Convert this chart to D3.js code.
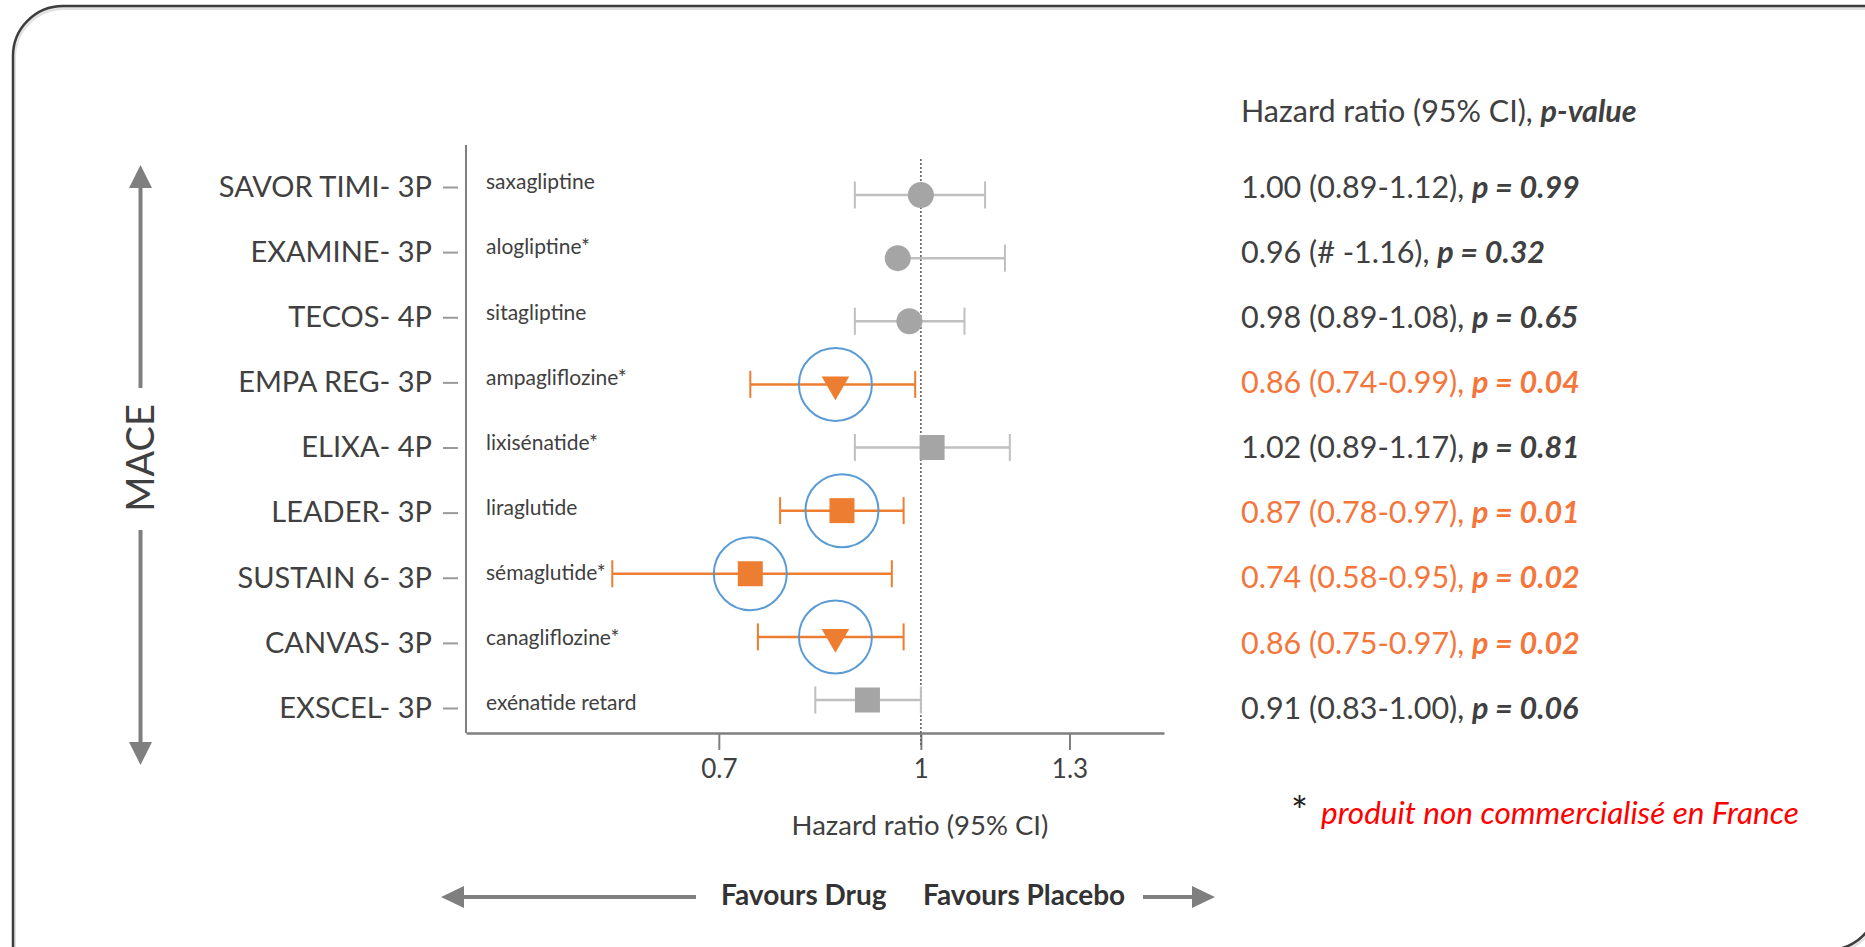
<!DOCTYPE html>
<html>
<head>
<meta charset="utf-8">
<script src="https://cdn.jsdelivr.net/npm/d3@7"></script>
<style>
  html, body { margin: 0; padding: 0; background: #ffffff; }
  svg { display: block; font-family: Lato, "Open Sans", sans-serif; }
</style>
</head>
<body>
<svg id="chart" width="1865" height="947"></svg>
<script>
// Cardiovascular outcome trials: 3-/4-point MACE hazard ratios
const trials = ["SAVOR TIMI- 3P", "EXAMINE- 3P", "TECOS- 4P", "EMPA REG- 3P", "ELIXA- 4P",
                "LEADER- 3P", "SUSTAIN 6- 3P", "CANVAS- 3P", "EXSCEL- 3P"];
const drugs = ["saxagliptine", "alogliptine*", "sitagliptine", "ampagliflozine*", "lixisénatide*",
               "liraglutide", "sémaglutide*", "canagliflozine*", "exénatide retard"];
const drugClass = ["DPP-4", "DPP-4", "DPP-4", "SGLT2", "GLP-1", "GLP-1", "GLP-1", "SGLT2", "GLP-1"];
const hazardRatio = [1.00, 0.96, 0.98, 0.86, 1.02, 0.87, 0.74, 0.86, 0.91];
const ciLower = [0.89, null, 0.89, 0.74, 0.89, 0.78, 0.58, 0.75, 0.83];
const ciUpper = [1.12, 1.16, 1.08, 0.99, 1.17, 0.97, 0.95, 0.97, 1.00];
const pValues = [0.99, 0.32, 0.65, 0.04, 0.81, 0.01, 0.02, 0.02, 0.06];
const xTicks = [0.7, 1, 1.3];

const rows = trials.map((t, i) => ({
  trial: t, drug: drugs[i], cls: drugClass[i], hr: hazardRatio[i],
  lo: ciLower[i], hi: ciUpper[i], p: pValues[i], sig: pValues[i] < 0.05
}));

const C = {
  text: "#404040", axis: "#7f7f7f", grayMark: "#a5a5a5", grayBar: "#bfbfbf",
  orange: "#ed7d31", orangeText: "#f4763b", blue: "#5b9bd5", red: "#ff0000"
};

const svg = d3.select("#chart");

// Card outline: rounded top-left and bottom-right corners
(function () {
  const l = 13, t = 6, r = 1878, b = 950, rad = 50;
  const p = d3.path();
  p.moveTo(l, b);
  p.lineTo(l, t + rad);
  p.arcTo(l, t, l + rad, t, rad);
  p.lineTo(r, t);
  p.lineTo(r, b - rad);
  p.arcTo(r, b, r - rad, b, rad);
  p.lineTo(l, b);
  svg.append("path").attr("d", p.toString()).attr("transform", "translate(1,2)")
    .attr("fill", "none").attr("stroke", "#e2e2e2").attr("stroke-width", 4);
  svg.append("path").attr("d", p.toString())
    .attr("fill", "none").attr("stroke", "#3d3d3d").attr("stroke-width", 2.5);
})();

// Scales
const x = d3.scaleLog().domain([0.448, 1.536]).range([466, 1164]);
const yRow = d3.scalePoint().domain(trials).range([187, 708]);
const yMark = d3.scalePoint().domain(trials).range([195, 700]);
const plotTop = 145, plotBottom = 733;

// Plot frame (left and bottom axis lines)
svg.append("line").attr("x1", x.range()[0]).attr("x2", x.range()[0])
  .attr("y1", plotTop).attr("y2", plotBottom)
  .attr("stroke", C.axis).attr("stroke-width", 2);

const xAxis = svg.append("g").attr("transform", `translate(0,${plotBottom})`)
  .call(d3.axisBottom(x).tickValues(xTicks).tickFormat(d => String(d))
    .tickSize(17).tickSizeOuter(0).tickPadding(10));
xAxis.select(".domain").attr("stroke", C.axis).attr("stroke-width", 2.5);
xAxis.selectAll(".tick line").attr("stroke", C.axis).attr("stroke-width", 2);
xAxis.selectAll(".tick text").attr("fill", C.text).attr("font-size", 26)
  .attr("font-family", "Lato, sans-serif");

// Trial labels with short dashes
const yAxis = svg.append("g").attr("transform", "translate(458,0)")
  .call(d3.axisLeft(yRow).tickSize(15).tickPadding(11));
yAxis.select(".domain").remove();
yAxis.selectAll(".tick line").attr("stroke", "#9a9a9a").attr("stroke-width", 2);
yAxis.selectAll(".tick text").attr("fill", C.text).attr("font-size", 29)
  .attr("font-family", "Lato, sans-serif");

// Line of no effect
svg.append("line").attr("x1", x(1)).attr("x2", x(1)).attr("y1", 159).attr("y2", 745)
  .attr("stroke", "#595959").attr("stroke-width", 1.5).attr("stroke-dasharray", "2,2");

// Drug names inside the plot
svg.append("g").selectAll("text").data(rows).join("text")
  .attr("x", 486).attr("y", d => yRow(d.trial) - 5).attr("dy", "0.35em")
  .attr("fill", C.text).attr("font-size", 21).text(d => d.drug);

// Confidence intervals
const capHalf = 13.5;
const ci = svg.append("g").selectAll("g").data(rows).join("g");
ci.append("line")
  .attr("x1", d => x(d.lo == null ? d.hr : d.lo)).attr("x2", d => x(d.hi))
  .attr("y1", d => yMark(d.trial)).attr("y2", d => yMark(d.trial))
  .attr("stroke", d => d.sig ? C.orange : C.grayBar).attr("stroke-width", 2.5);
ci.filter(d => d.lo != null).append("line")
  .attr("x1", d => x(d.lo)).attr("x2", d => x(d.lo))
  .attr("y1", d => yMark(d.trial) - capHalf).attr("y2", d => yMark(d.trial) + capHalf)
  .attr("stroke", d => d.sig ? C.orange : C.grayBar).attr("stroke-width", 2);
ci.append("line")
  .attr("x1", d => x(d.hi)).attr("x2", d => x(d.hi))
  .attr("y1", d => yMark(d.trial) - capHalf).attr("y2", d => yMark(d.trial) + capHalf)
  .attr("stroke", d => d.sig ? C.orange : C.grayBar).attr("stroke-width", 2);

// Point estimates, symbol by drug class
const symbolFor = { "DPP-4": d3.symbolCircle, "GLP-1": d3.symbolSquare, "SGLT2": d3.symbolTriangle };
const sizeFor = { "DPP-4": Math.PI * 13 * 13, "GLP-1": 625, "SGLT2": 330 };
svg.append("g").selectAll("path").data(rows).join("path")
  .attr("d", d => d3.symbol(symbolFor[d.cls], sizeFor[d.cls])())
  .attr("transform", d => `translate(${x(d.hr)},${yMark(d.trial)})` + (d.cls === "SGLT2" ? " rotate(180)" : ""))
  .attr("fill", d => d.sig ? C.orange : C.grayMark);

// Highlight rings on significant results
svg.append("g").selectAll("circle").data(rows.filter(d => d.sig)).join("circle")
  .attr("cx", d => x(d.hr)).attr("cy", d => yMark(d.trial)).attr("r", 36.5)
  .attr("fill", "none").attr("stroke", C.blue).attr("stroke-width", 2);

// Axis title
svg.append("text").attr("x", 920).attr("y", 825).attr("dy", "0.35em")
  .attr("text-anchor", "middle").attr("fill", C.text).attr("font-size", 27.5)
  .text("Hazard ratio (95% CI)");

// Right-hand column: HR (95% CI), p-value
const header = svg.append("text").attr("x", 1241).attr("y", 111).attr("dy", "0.35em")
  .attr("fill", C.text).attr("font-size", 30.5);
header.append("tspan").text("Hazard ratio (95% CI), ");
header.append("tspan").attr("font-style", "italic").attr("font-weight", "bold").text("p-value");

const stats = svg.append("g").selectAll("text").data(rows).join("text")
  .attr("x", 1241).attr("y", d => yRow(d.trial)).attr("dy", "0.35em")
  .attr("font-size", 30.5).attr("fill", d => d.sig ? C.orangeText : C.text);
stats.append("tspan")
  .text(d => `${d.hr.toFixed(2)} (${d.lo == null ? "# " : d.lo.toFixed(2)}-${d.hi.toFixed(2)}), `);
stats.append("tspan").attr("font-style", "italic").attr("font-weight", "bold")
  .text(d => `p = ${d.p.toFixed(2)}`);

// Footnote
svg.append("text").attr("x", 1291).attr("y", 826).attr("fill", "#222")
  .attr("font-size", 40).text("*");
svg.append("text").attr("x", 1321).attr("y", 813).attr("dy", "0.35em")
  .attr("fill", C.red).attr("font-size", 31.5).attr("font-style", "italic")
  .text("produit non commercialisé en France");

// MACE vertical double arrow
const arrow = svg.append("g").attr("fill", C.axis).attr("stroke", C.axis);
arrow.append("line").attr("x1", 140.5).attr("x2", 140.5).attr("y1", 186).attr("y2", 388).attr("stroke-width", 4);
arrow.append("line").attr("x1", 140.5).attr("x2", 140.5).attr("y1", 530).attr("y2", 744).attr("stroke-width", 4);
arrow.append("path").attr("stroke", "none").attr("d", "M129,188 L152,188 L140.5,165 Z");
arrow.append("path").attr("stroke", "none").attr("d", "M129,742 L152,742 L140.5,765 Z");
svg.append("text").attr("transform", "translate(140.5,458) rotate(-90)").attr("dy", "0.36em")
  .attr("text-anchor", "middle").attr("fill", C.text).attr("font-size", 38).text("MACE");

// Favours Drug / Favours Placebo
const fav = svg.append("g").attr("fill", C.axis).attr("stroke", C.axis);
fav.append("line").attr("x1", 462).attr("x2", 696).attr("y1", 897).attr("y2", 897).attr("stroke-width", 4);
fav.append("path").attr("stroke", "none").attr("d", "M441,897 L464,886 L464,908 Z");
fav.append("line").attr("x1", 1143).attr("x2", 1194).attr("y1", 897).attr("y2", 897).attr("stroke-width", 4);
fav.append("path").attr("stroke", "none").attr("d", "M1215,897 L1192,886 L1192,908 Z");
svg.append("text").attr("x", 721).attr("y", 895).attr("dy", "0.35em")
  .attr("fill", "#333").attr("font-size", 28).attr("font-weight", "bold").text("Favours Drug");
svg.append("text").attr("x", 923).attr("y", 895).attr("dy", "0.35em")
  .attr("fill", "#333").attr("font-size", 28).attr("font-weight", "bold").text("Favours Placebo");
</script>
</body>
</html>
